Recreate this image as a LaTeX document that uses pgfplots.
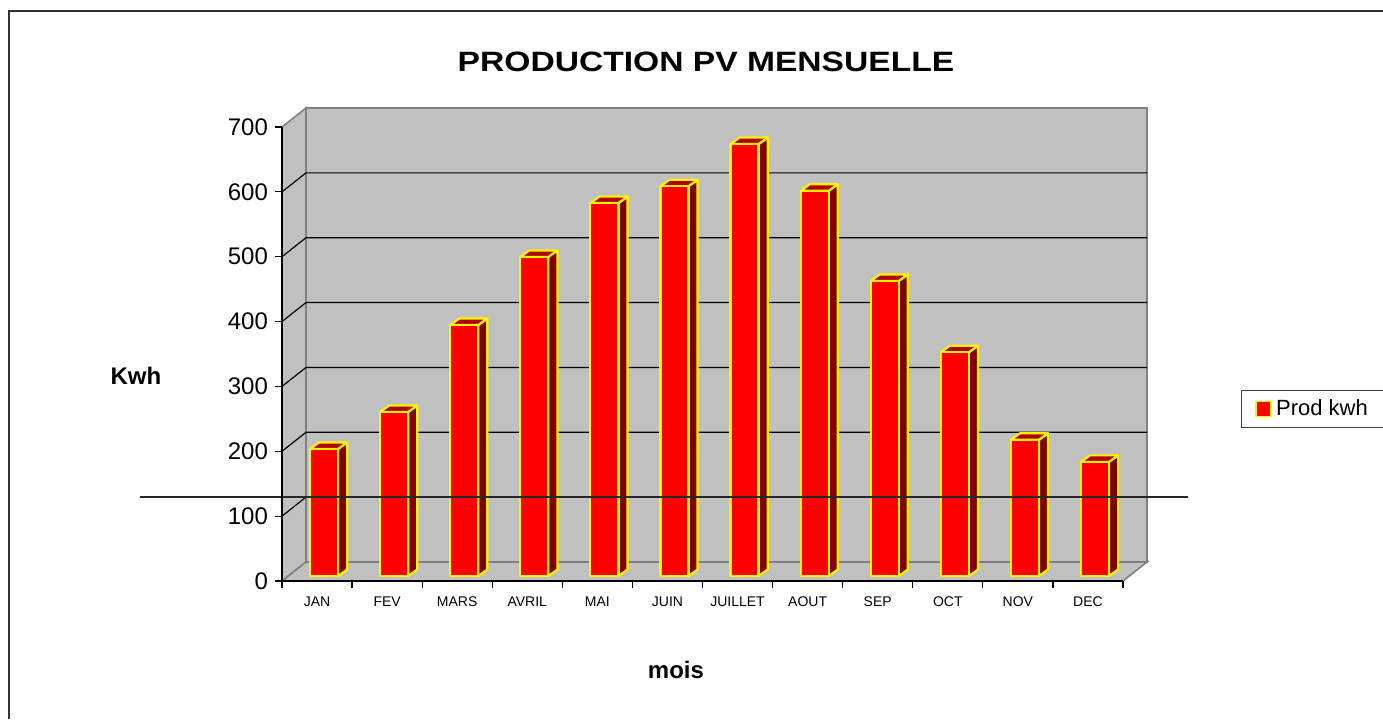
\documentclass[border=0pt]{standalone}
\usepackage{fontspec}
\setmainfont{Liberation Sans}
\usepackage{pgfplots}
\usepackage{pgfplotstable}
\pgfplotsset{compat=1.18}
\definecolor{wall}{HTML}{C0C0C0}
\definecolor{walledge}{HTML}{808080}
\definecolor{barside}{HTML}{800000}
\definecolor{bartop}{HTML}{B00000}
\pgfplotstableread{
i v
0 196
1 253
2 387
3 492
4 575
5 601
6 666
7 594
8 455
9 345
10 210
11 176
}\prodtable
\begin{document}
\begin{tikzpicture}
\useasboundingbox (0,0) rectangle (691.5pt,359.5pt);
% frame
\draw[black!80, line width=1pt] (4.5pt,0pt) -- (4.5pt,354pt) -- (692pt,354pt);
% title and labels
\node[anchor=base, font=\bfseries\fontsize{14}{16}\selectfont] at (353pt,323.5pt) {\scalebox{1.2}[1]{PRODUCTION PV MENSUELLE}};
\node[anchor=base, font=\bfseries\fontsize{12}{14}\selectfont] at (68pt,167.5pt) {Kwh};
\node[anchor=base, font=\bfseries\fontsize{12}{14}\selectfont] at (338pt,20.5pt) {mois};
\begin{axis}[
  at={(141pt,69pt)}, anchor=south west,
  scale only axis, width=420.5pt, height=227pt,
  xmin=-0.5, xmax=11.5, ymin=0, ymax=700,
  clip=false, axis on top,
  axis lines*=left,
  axis line style={line width=0.9pt, black},
  tick align=outside,
  major tick length=3.5pt,
  tick style={black, line width=0.6pt},
  /pgf/number format/assume math mode=true,
  ytick={0,100,...,700},
  yticklabel style={font=\fontsize{12}{14}\selectfont},
  xtick={-0.5,0.5,...,11.5},
  xticklabels={},
  extra x ticks={0,1,2,3,4,5,6,7,8,9,10,11},
  extra x tick labels={JAN,FEV,MARS,AVRIL,MAI,JUIN,JUILLET,AOUT,SEP,OCT,NOV,DEC},
  extra x tick style={tick style={draw=none}, tick label style={font=\fontsize{7}{8}\selectfont, yshift=-1pt}},
  legend style={at={(rel axis cs:1.1403,0.4207)}, anchor=north west, draw=black!75, line width=0.6pt,
    font=\fontsize{11}{13}\selectfont, inner xsep=4pt, inner ysep=2.5pt},
]
% walls
\filldraw[fill=wall, draw=walledge, line width=0.8pt] (axis cs:-0.1575,29.3) rectangle (axis cs:11.8425,729.3);
\filldraw[fill=wall, draw=walledge, line width=0.8pt] (axis cs:-0.5,0) -- (axis cs:-0.1575,29.3) -- (axis cs:-0.1575,729.3) -- (axis cs:-0.5,700) -- cycle;
\filldraw[fill=wall, draw=walledge, line width=0.8pt] (axis cs:-0.5,0) -- (axis cs:-0.1575,29.3) -- (axis cs:11.8425,29.3) -- (axis cs:11.5,0) -- cycle;
% gridlines
\pgfplotsinvokeforeach{100,200,300,400,500,600}{
  \pgfmathsetmacro\gy{#1+29.3}
  \edef\tmp{\noexpand\draw[black, line width=0.6pt] (axis cs:-0.5,#1) -- (axis cs:-0.1575,\gy) -- (axis cs:11.8425,\gy);}
  \tmp
}
% bars
\pgfplotsinvokeforeach{0,...,11}{
  \pgfplotstablegetelem{#1}{v}\of\prodtable
  \pgfmathsetmacro\xa{#1-0.1}
  \pgfmathsetmacro\xb{#1+0.3}
  \pgfmathsetmacro\xc{#1+0.43}
  \pgfmathsetmacro\xd{#1+0.03}
  \pgfmathsetmacro\ya{\pgfplotsretval+7.7}
  \pgfmathsetmacro\yb{\pgfplotsretval+17.7}
  \edef\tmp{%
    \noexpand\filldraw[fill=barside, draw=yellow, line width=1.1pt, line join=round] (axis cs:\xb,7.7) -- (axis cs:\xc,17.7) -- (axis cs:\xc,\yb) -- (axis cs:\xb,\ya) -- cycle;
    \noexpand\filldraw[fill=bartop, draw=yellow, line width=1.1pt, line join=round] (axis cs:\xa,\ya) -- (axis cs:\xd,\yb) -- (axis cs:\xc,\yb) -- (axis cs:\xb,\ya) -- cycle;
    \noexpand\filldraw[fill=red, draw=yellow, line width=1.1pt, line join=round] (axis cs:\xa,7.7) rectangle (axis cs:\xb,\ya);
  }%
  \tmp
}
% stray line
\draw[black!85, line width=1pt] (axis cs:-2.526,129.5) -- (axis cs:12.428,129.5);
\addlegendimage{legend image code/.code={\path (0pt,0pt); \filldraw[fill=red, draw=yellow, line width=0.9pt] (3pt,-3.75pt) rectangle (10.5pt,3.75pt);}}
\addlegendentry{Prod kwh\rule{20pt}{0pt}}
\end{axis}
\end{tikzpicture}
\end{document}
